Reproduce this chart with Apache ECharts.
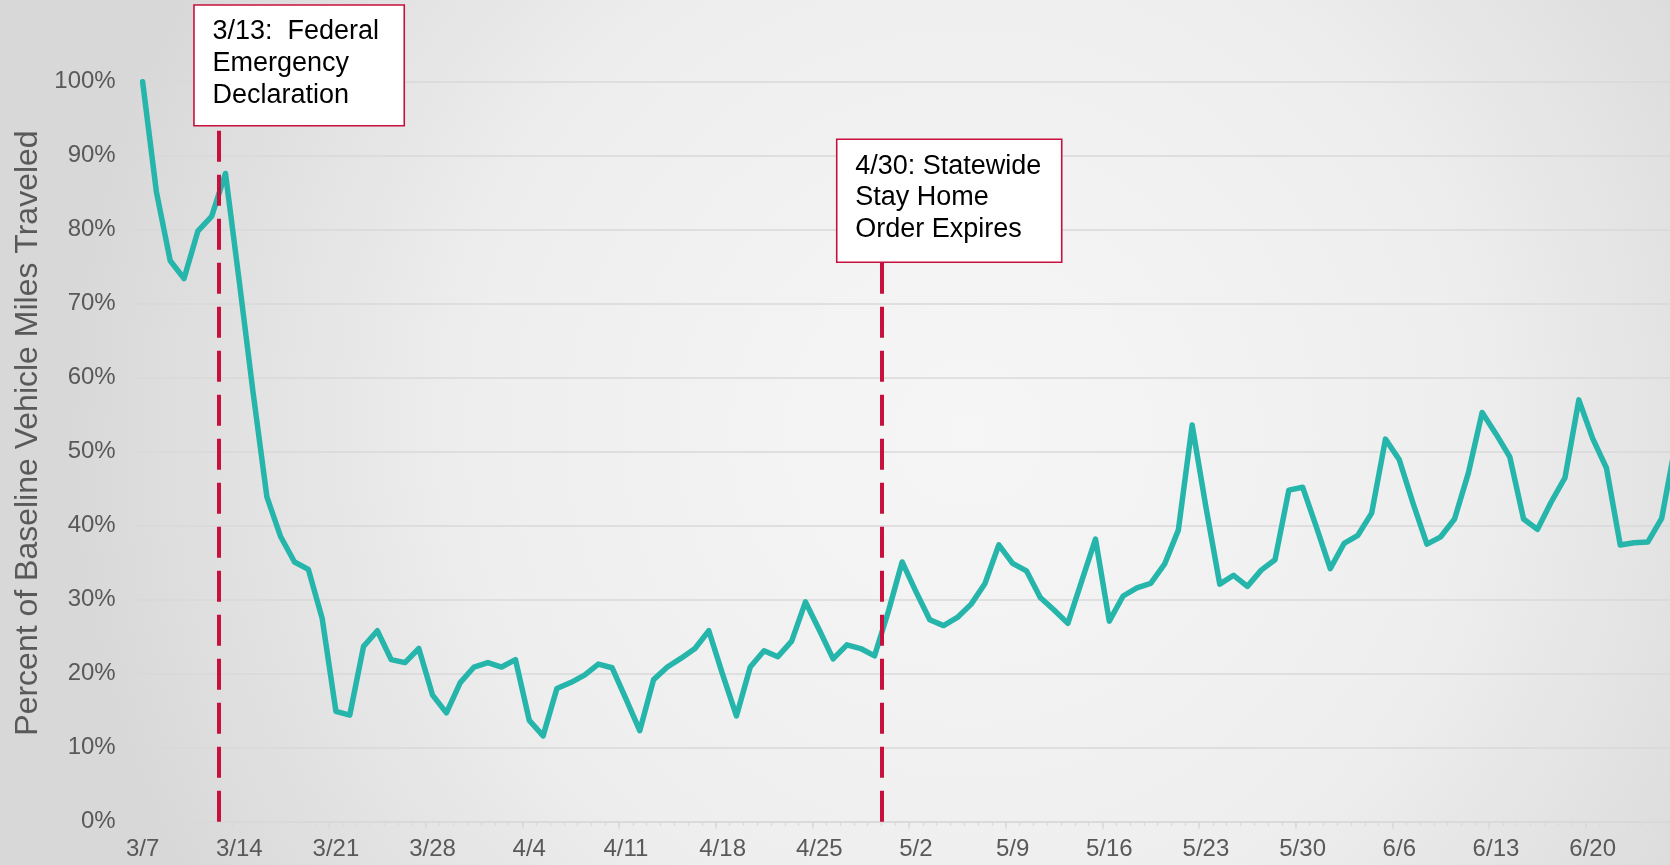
<!DOCTYPE html>
<html>
<head>
<meta charset="utf-8">
<title>Percent of Baseline Vehicle Miles Traveled</title>
<script src="https://cdn.jsdelivr.net/npm/echarts@6/dist/echarts.min.js"></script>
<style>
  html, body { margin: 0; padding: 0; }
  #chart { width: 1670px; height: 865px; }
</style>
</head>
<body>
<div id="chart"></div>
<script>
// Daily dates, 3/7 through 6/26
const categories = [
  '3/7','3/8','3/9','3/10','3/11','3/12','3/13','3/14','3/15','3/16','3/17','3/18','3/19','3/20',
  '3/21','3/22','3/23','3/24','3/25','3/26','3/27','3/28','3/29','3/30','3/31',
  '4/1','4/2','4/3','4/4','4/5','4/6','4/7','4/8','4/9','4/10','4/11','4/12','4/13','4/14','4/15',
  '4/16','4/17','4/18','4/19','4/20','4/21','4/22','4/23','4/24','4/25','4/26','4/27','4/28','4/29','4/30',
  '5/1','5/2','5/3','5/4','5/5','5/6','5/7','5/8','5/9','5/10','5/11','5/12','5/13','5/14','5/15',
  '5/16','5/17','5/18','5/19','5/20','5/21','5/22','5/23','5/24','5/25','5/26','5/27','5/28','5/29',
  '5/30','5/31',
  '6/1','6/2','6/3','6/4','6/5','6/6','6/7','6/8','6/9','6/10','6/11','6/12','6/13','6/14','6/15',
  '6/16','6/17','6/18','6/19','6/20','6/21','6/22','6/23','6/24','6/25','6/26'
];

// Vehicle miles traveled as a percent of baseline
const vmtPercent = [
  100, 85.1, 75.8, 73.4, 79.8, 81.8, 87.6, 73.0, 58.0, 43.9, 38.5, 35.1, 34.1, 27.5,
  14.9, 14.4, 23.7, 25.8, 21.9, 21.5, 23.4, 17.1, 14.7, 18.8, 20.9,
  21.5, 20.9, 21.9, 13.7, 11.6, 18.0, 18.8, 19.8, 21.3, 20.8, 16.6, 12.3, 19.2, 20.9, 22.1,
  23.4, 25.8, 19.9, 14.3, 20.9, 23.1, 22.3, 24.4, 29.7, 25.9, 22.0, 23.9, 23.4, 22.4, 28.4,
  35.1, 31.1, 27.3, 26.5, 27.6, 29.4, 32.2, 37.4, 34.9, 33.9, 30.3, 28.6, 26.8, 32.5, 38.2,
  27.1, 30.5, 31.6, 32.2, 34.8, 39.4, 53.6, 42.5, 32.1, 33.3, 31.8, 34.0, 35.4, 44.8,
  45.2, 39.8,
  34.2, 37.6, 38.7, 41.7, 51.7, 48.9, 43.0, 37.5, 38.5, 40.9, 47.1, 55.3, 52.4, 49.3, 40.9,
  39.5, 43.2, 46.5, 57.0, 51.8, 47.8, 37.4, 37.7, 37.8, 41.0, 51.0
];

// Policy events marked on the timeline
const eventDates = ['3/13', '4/30'];
const eventTexts = [
  '3/13:  Federal\nEmergency\nDeclaration',
  '4/30: Statewide\nStay Home\nOrder Expires'
];

// Callout box layout (pixels): offset of box left from the event line, box top, size
const calloutLayout = [
  { dx: -24.6, top: 5,     width: 210.3, height: 120.7 },
  { dx: -44.7, top: 139.3, width: 225,   height: 123 }
];

const FONT = '"Liberation Sans", Arial, Helvetica, sans-serif';
const TEAL = '#25B5AA';
const CRIMSON = '#C8103E';
const GRID_GREY = '#D9D9D9';
const LABEL_GREY = '#595959';

const chart = echarts.init(document.getElementById('chart'));

// The plot runs slightly past the right edge of the canvas
const gridLeft = 135.7, gridTop = 81.7, gridHeight = 740, gridWidth = 1546.7;

chart.setOption({
  animation: false,
  backgroundColor: {
    type: 'radial', x: 0.58, y: 0.5, r: 1.05,
    colorStops: [
      { offset: 0, color: '#F6F6F6' },
      { offset: 0.55, color: '#EEEEEE' },
      { offset: 1, color: '#D8D8D8' }
    ]
  },
  grid: {
    left: gridLeft, top: gridTop, height: gridHeight, width: gridWidth,
    containLabel: false, outerBoundsMode: 'none'
  },
  xAxis: [
    {
      type: 'category',
      data: categories,
      boundaryGap: true,
      axisLine: { show: true, lineStyle: { color: GRID_GREY, width: 1.5 } },
      axisTick: { show: true, interval: 0, length: 4, lineStyle: { color: GRID_GREY, width: 1.3 } },
      axisLabel: {
        interval: 6, margin: 16, color: LABEL_GREY, fontSize: 24, fontFamily: FONT
      },
      splitLine: { show: false }
    },
    {
      // weekly major ticks
      type: 'category',
      data: categories,
      boundaryGap: true,
      position: 'bottom',
      axisLine: { show: false },
      axisTick: { show: true, interval: 6, length: 7, lineStyle: { color: GRID_GREY, width: 1.5 } },
      axisLabel: { show: false },
      splitLine: { show: false }
    },
    {
      // day-boundary scale used for event lines
      type: 'value',
      min: 0,
      max: categories.length,
      show: false
    }
  ],
  yAxis: {
    type: 'value',
    min: 0,
    max: 100,
    interval: 10,
    axisLine: { show: false },
    axisTick: { show: false },
    axisLabel: {
      formatter: '{value}%', margin: 20, color: LABEL_GREY, fontSize: 24, fontFamily: FONT
    },
    splitLine: { show: true, lineStyle: { color: GRID_GREY, width: 1.5 } }
  },
  series: [
    {
      type: 'line',
      xAxisIndex: 0,
      data: vmtPercent,
      showSymbol: false,
      symbol: 'none',
      lineStyle: { color: TEAL, width: 5.5, join: 'round', cap: 'round' },
      z: 3
    }
  ]
});

// Event lines and callouts, placed from the axis scales
const markData = [];
const graphics = [];
eventDates.forEach(function (d, k) {
  const idx = categories.indexOf(d);
  const lay = calloutLayout[k];
  const lineX = chart.convertToPixel({ xAxisIndex: 2 }, idx);
  const bottomPx = lay.top + lay.height;
  const topVal = chart.convertFromPixel({ yAxisIndex: 0 }, bottomPx);
  markData.push([{ coord: [idx, 0] }, { coord: [idx, topVal] }]);
  const boxLeft = lineX + lay.dx;
  graphics.push({
    type: 'rect',
    shape: { x: boxLeft, y: lay.top, width: lay.width, height: lay.height },
    style: { fill: '#FFFFFF', stroke: CRIMSON, lineWidth: 1.6 },
    z: 20
  });
  graphics.push({
    type: 'text',
    x: boxLeft + 18.5,
    y: lay.top + 11,
    style: {
      text: eventTexts[k],
      fill: '#000000',
      font: '27px ' + FONT,
      lineHeight: 31.7,
      align: 'left',
      verticalAlign: 'top'
    },
    z: 21
  });
});

graphics.push({
  type: 'text',
  x: 28,
  y: 433,
  rotation: Math.PI / 2,
  style: {
    text: 'Percent of Baseline Vehicle Miles Traveled',
    fill: LABEL_GREY,
    font: '32px ' + FONT,
    align: 'center',
    verticalAlign: 'middle'
  },
  z: 10
});

chart.setOption({
  series: [
    {},
    {
      type: 'line',
      xAxisIndex: 2,
      yAxisIndex: 0,
      data: [],
      silent: true,
      markLine: {
        silent: true,
        symbol: ['none', 'none'],
        label: { show: false },
        lineStyle: { color: CRIMSON, width: 4, type: [31, 13], opacity: 1 },
        data: markData
      },
      z: 4
    }
  ],
  graphic: graphics
});
</script>
</body>
</html>
